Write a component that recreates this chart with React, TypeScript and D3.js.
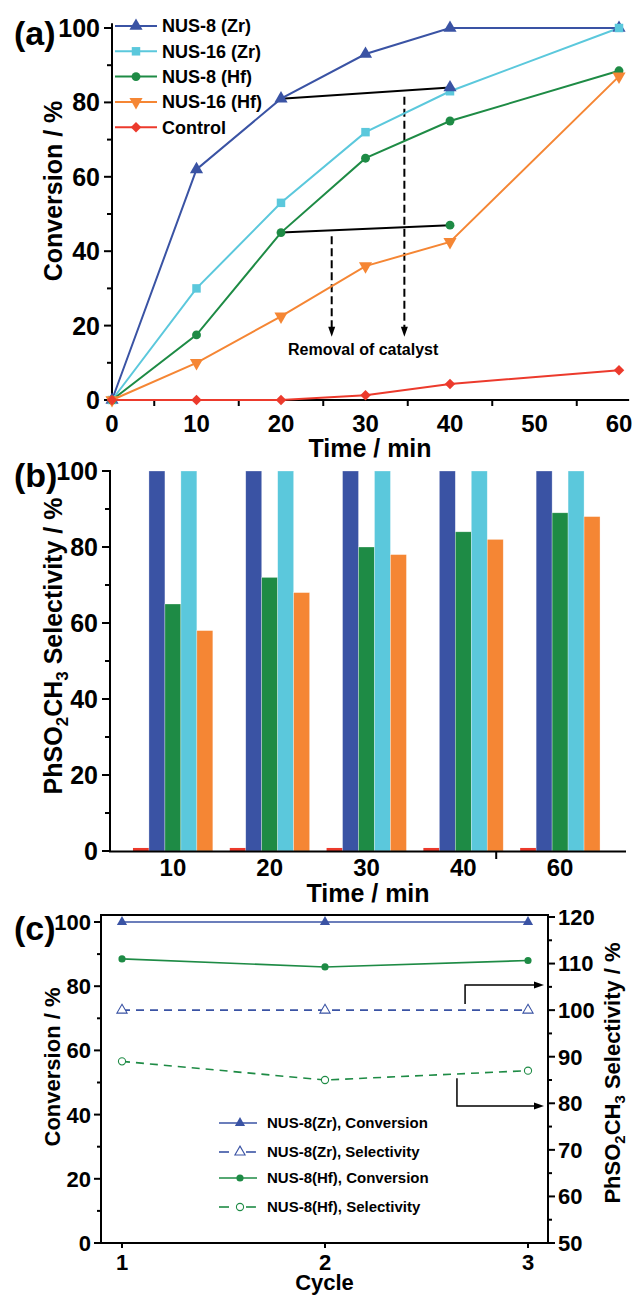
import React from 'react';
import * as d3 from 'd3';

const FONT = '"Liberation Sans", Arial, Helvetica, sans-serif';

// ---------- Panel (a): conversion vs time ----------
const timesA = [0, 10, 20, 30, 40, 60];
const convNus8Zr = [0, 62, 81, 93, 100, 100];
const convNus16Zr = [0, 30, 53, 72, 83, 100];
const convNus8Hf = [0, 17.5, 45, 65, 75, 88.5];
const convNus16Hf = [0, 10, 22.5, 36, 42.5, 87];
const convControl = [0, 0, 0, 1.3, 4.3, 8];
const removalTimes = [20, 40];
const removalNus8Zr = [81, 84];
const removalNus8Hf = [45, 47];
const arrowTimesA = [26, 34.6];
const arrowStartA = [44, 81.5];
const arrowEndA = [17, 17];
const ticksAx = [0, 10, 20, 30, 40, 50, 60];
const minorTicksAx = [5, 15, 25, 35, 45, 55];
const ticksAy = [0, 20, 40, 60, 80, 100];
const minorTicksAy = [10, 30, 50, 70, 90];
const namesA = ['NUS-8 (Zr)', 'NUS-16 (Zr)', 'NUS-8 (Hf)', 'NUS-16 (Hf)', 'Control'];

// ---------- Panel (b): selectivity bars ----------
const barTimes = ['10', '20', '30', '40', '60'];
const selControl = [0.8, 0.8, 0.8, 0.8, 0.8];
const selNus8Zr = [100, 100, 100, 100, 100];
const selNus8Hf = [65, 72, 80, 84, 89];
const selNus16Zr = [100, 100, 100, 100, 100];
const selNus16Hf = [58, 68, 78, 82, 88];
const ticksBy = [0, 20, 40, 60, 80, 100];
const minorTicksBy = [10, 30, 50, 70, 90];

// ---------- Panel (c): recycling ----------
const cycles = [1, 2, 3];
const cConvZr = [100, 100, 100];
const cSelZr = [100, 100, 100];
const cConvHf = [88.5, 86, 88];
const cSelHf = [89, 85, 87];
const ticksCyL = [0, 20, 40, 60, 80, 100];
const minorTicksCyL = [10, 30, 50, 70, 90];
const ticksCyR = [50, 60, 70, 80, 90, 100, 110, 120];
const minorTicksCyR = [55, 65, 75, 85, 95, 105, 115];
const namesC = ['NUS-8(Zr), Conversion', 'NUS-8(Zr), Selectivity', 'NUS-8(Hf), Conversion', 'NUS-8(Hf), Selectivity'];

const C = {
  blue: '#3A53A4',
  cyan: '#5BC8DC',
  green: '#1E8B45',
  orange: '#F58634',
  red: '#EC3A2C',
};

const symPath = (type: d3.SymbolType, size: number) => d3.symbol().type(type).size(size)() as string;

type MarkerKind = 'tri' | 'square' | 'circle' | 'down' | 'diamond';
function Marker({ kind, x, y, color, open = false, scale = 1 }: { kind: MarkerKind; x: number; y: number; color: string; open?: boolean; scale?: number }) {
  let d = '';
  let rot = 0;
  if (kind === 'tri') d = symPath(d3.symbolTriangle, 75 * scale);
  if (kind === 'down') { d = symPath(d3.symbolTriangle, 75 * scale); rot = 180; }
  if (kind === 'square') d = symPath(d3.symbolSquare, 72 * scale);
  if (kind === 'circle') d = symPath(d3.symbolCircle, 62 * scale);
  if (kind === 'diamond') { d = symPath(d3.symbolSquare, 55 * scale); rot = 45; }
  return (
    <path
      d={d}
      transform={`translate(${x},${y}) rotate(${rot})`}
      fill={open ? '#fff' : color}
      stroke={color}
      strokeWidth={open ? 1.1 : 0}
    />
  );
}

export default function App() {
  // ---- scales (a)
  const xA = d3.scaleLinear().domain([0, 60]).range([112, 619]);
  const yA = d3.scaleLinear().domain([0, 100]).range([400, 28]);
  const lineA = (xs: number[], ys: number[]) =>
    d3.line<number>().x((_, i) => xA(xs[i])).y((v) => yA(v))(ys) as string;

  const seriesA = [
    { vals: convNus8Zr, color: C.blue, kind: 'tri' as MarkerKind },
    { vals: convNus16Zr, color: C.cyan, kind: 'square' as MarkerKind },
    { vals: convNus8Hf, color: C.green, kind: 'circle' as MarkerKind },
    { vals: convNus16Hf, color: C.orange, kind: 'down' as MarkerKind },
    { vals: convControl, color: C.red, kind: 'diamond' as MarkerKind },
  ];

  // ---- scales (b)
  const xB = d3.scaleBand<string>().domain(barTimes).range([124.5, 608.5]).paddingInner(0.175).paddingOuter(0.0875);
  const subKeys = ['control', 'n8zr', 'n8hf', 'n16zr', 'n16hf'];
  const xSub = d3.scaleBand<string>().domain(subKeys).range([0, xB.bandwidth()]);
  const yB = d3.scaleLinear().domain([0, 100]).range([851, 471]);
  const barSeries = [
    { key: 'control', vals: selControl, color: C.red },
    { key: 'n8zr', vals: selNus8Zr, color: C.blue },
    { key: 'n8hf', vals: selNus8Hf, color: C.green },
    { key: 'n16zr', vals: selNus16Zr, color: C.cyan },
    { key: 'n16hf', vals: selNus16Hf, color: C.orange },
  ];
  const breakTickX = (xB('40') as number) + xB.bandwidth() / 2 + xB.step() * 0.34;

  // ---- scales (c)
  const xC = d3.scaleLinear().domain([1, 3]).range([122, 528]);
  const yCL = d3.scaleLinear().domain([0, 100]).range([1243, 922]);
  const yCR = d3.scaleLinear().domain([50, 120]).range([1243, 917]);
  const cLeft = 101, cRight = 548, cTop = 915, cBottom = 1243;
  const lineC = (ys: number[], y: d3.ScaleLinear<number, number>) =>
    d3.line<number>().x((_, i) => xC(cycles[i])).y((v) => y(v))(ys) as string;

  const tickFont = { fontFamily: FONT, fontWeight: 700 } as const;

  const arrowHead = (x: number, y: number, dir: 'down' | 'right', len = 10, half = 3.5) =>
    dir === 'down'
      ? `M${x},${y} L${x - half},${y - len} L${x + half},${y - len} Z`
      : `M${x},${y} L${x - len},${y - half} L${x - len},${y + half} Z`;

  return (
    <svg width={633} height={1296} style={{ position: 'absolute', left: 0, top: 0, background: '#fff' }} fontFamily={FONT}>
      <rect x={0} y={0} width={633} height={1296} fill="#fff" />

      {/* ================= Panel (a) ================= */}
      <text x={14} y={45} fontSize={34} {...tickFont}>(a)</text>
      <line x1={112} x2={112} y1={yA(0) + 1} y2={yA(101.3)} stroke="#000" strokeWidth={2} />
      <line x1={111} x2={xA(61.2)} y1={yA(0)} y2={yA(0)} stroke="#000" strokeWidth={2} />
      {ticksAy.map((t) => (
        <g key={'ay' + t}>
          <line x1={104} x2={112} y1={yA(t)} y2={yA(t)} stroke="#000" strokeWidth={2} />
          <text x={100} y={yA(t)} dy="0.36em" textAnchor="end" fontSize={25} {...tickFont}>{t}</text>
        </g>
      ))}
      {minorTicksAy.map((t) => (
        <line key={'may' + t} x1={107} x2={112} y1={yA(t)} y2={yA(t)} stroke="#000" strokeWidth={2} />
      ))}
      {minorTicksAx.map((t) => (
        <line key={'max' + t} x1={xA(t)} x2={xA(t)} y1={yA(0)} y2={yA(0) + 6} stroke="#000" strokeWidth={2} />
      ))}
      {ticksAx.map((t) => (
        <text key={'ax' + t} x={xA(t)} y={432} textAnchor="middle" fontSize={24} {...tickFont}>{t}</text>
      ))}
      <text x={370} y={457} textAnchor="middle" fontSize={25} {...tickFont}>Time / min</text>
      <text transform={`translate(62,${191}) rotate(-90)`} textAnchor="middle" fontSize={25} {...tickFont}>Conversion / %</text>

      {/* removal lines */}
      <path d={lineA(removalTimes, removalNus8Zr)} fill="none" stroke="#000" strokeWidth={2} />
      <path d={lineA(removalTimes, removalNus8Hf)} fill="none" stroke="#000" strokeWidth={2} />
      {arrowTimesA.map((t, i) => (
        <g key={'arr' + i}>
          <line x1={xA(t)} x2={xA(t)} y1={yA(arrowStartA[i])} y2={yA(arrowEndA[i]) - 9} stroke="#000" strokeWidth={2} strokeDasharray="8,4" />
          <path d={arrowHead(xA(t), yA(arrowEndA[i]), 'down', 10, 3.5)} fill="#000" />
        </g>
      ))}
      <text x={288} y={355} fontSize={16} {...tickFont}>Removal of catalyst</text>

      {seriesA.map((s, i) => (
        <path key={'la' + i} d={lineA(timesA, s.vals)} fill="none" stroke={s.color} strokeWidth={2} />
      ))}
      {seriesA.map((s, i) =>
        s.vals.map((v, j) => <Marker key={`ma${i}-${j}`} kind={s.kind} x={xA(timesA[j])} y={yA(v)} color={s.color} />)
      )}
      <Marker kind="tri" x={xA(removalTimes[1])} y={yA(removalNus8Zr[1])} color={C.blue} />
      <Marker kind="circle" x={xA(removalTimes[1])} y={yA(removalNus8Hf[1])} color={C.green} />

      {/* legend (a) */}
      {seriesA.map((s, i) => {
        const y = 26 + i * 25.3;
        return (
          <g key={'lga' + i}>
            <line x1={115} x2={157} y1={y} y2={y} stroke={s.color} strokeWidth={2} />
            <Marker kind={s.kind} x={136} y={y} color={s.color} />
            <text x={162} y={y} dy="0.36em" fontSize={18} {...tickFont}>{namesA[i]}</text>
          </g>
        );
      })}

      {/* ================= Panel (b) ================= */}
      <text x={14} y={487} fontSize={34} {...tickFont}>(b)</text>
      {barSeries.map((s) =>
        s.vals.map((v, j) => {
          const x0 = (xB(barTimes[j]) as number) + (xSub(s.key) as number);
          return (
            <rect
              key={`b${s.key}-${j}`}
              x={x0}
              y={yB(v)}
              width={xSub.bandwidth()}
              height={yB(0) - yB(v)}
              fill={s.color}
              stroke="#ffffff"
              strokeOpacity={s.key === 'control' ? 0 : 0.5}
              strokeWidth={0.6}
            />
          );
        })
      )}
      <line x1={110} x2={110} y1={yB(0) + 1} y2={yB(100) - 1} stroke="#000" strokeWidth={2} />
      <line x1={109} x2={626} y1={yB(0) + 0.5} y2={yB(0) + 0.5} stroke="#000" strokeWidth={2} />
      {ticksBy.map((t) => (
        <g key={'by' + t}>
          <line x1={102} x2={110} y1={yB(t)} y2={yB(t)} stroke="#000" strokeWidth={2} />
          <text x={98} y={yB(t)} dy="0.36em" textAnchor="end" fontSize={25} {...tickFont}>{t}</text>
        </g>
      ))}
      {minorTicksBy.map((t) => (
        <line key={'mby' + t} x1={105} x2={110} y1={yB(t)} y2={yB(t)} stroke="#000" strokeWidth={2} />
      ))}
      <line x1={breakTickX} x2={breakTickX} y1={yB(0)} y2={yB(0) + 8} stroke="#000" strokeWidth={2} />
      {barTimes.map((t) => (
        <text key={'bx' + t} x={(xB(t) as number) + xB.bandwidth() / 2} y={876} textAnchor="middle" fontSize={24} {...tickFont}>{t}</text>
      ))}
      <text x={368} y={902} textAnchor="middle" fontSize={25} {...tickFont}>Time / min</text>
      <text transform={`translate(62,${646}) rotate(-90)`} textAnchor="middle" fontSize={25} {...tickFont}>
        PhSO<tspan dy={6} fontSize={17}>2</tspan><tspan dy={-6}>CH</tspan><tspan dy={6} fontSize={17}>3</tspan><tspan dy={-6}> Selectivity / %</tspan>
      </text>

      {/* ================= Panel (c) ================= */}
      <text x={14} y={940} fontSize={34} {...tickFont}>(c)</text>
      <rect x={cLeft} y={cTop} width={cRight - cLeft} height={cBottom - cTop} fill="none" stroke="#000" strokeWidth={2} />
      {ticksCyL.map((t) => (
        <g key={'cyl' + t}>
          <line x1={cLeft - 7} x2={cLeft} y1={yCL(t)} y2={yCL(t)} stroke="#000" strokeWidth={2} />
          <text x={91} y={yCL(t)} dy="0.36em" textAnchor="end" fontSize={22} {...tickFont}>{t}</text>
        </g>
      ))}
      {minorTicksCyL.map((t) => (
        <line key={'mcyl' + t} x1={cLeft - 4} x2={cLeft} y1={yCL(t)} y2={yCL(t)} stroke="#000" strokeWidth={2} />
      ))}
      {ticksCyR.map((t) => (
        <g key={'cyr' + t}>
          <line x1={cRight} x2={cRight + 7} y1={yCR(t)} y2={yCR(t)} stroke="#000" strokeWidth={2} />
          <text x={558} y={yCR(t)} dy="0.36em" textAnchor="start" fontSize={22} {...tickFont}>{t}</text>
        </g>
      ))}
      {minorTicksCyR.map((t) => (
        <line key={'mcyr' + t} x1={cRight} x2={cRight + 4} y1={yCR(t)} y2={yCR(t)} stroke="#000" strokeWidth={2} />
      ))}
      {cycles.map((c) => (
        <g key={'cx' + c}>
          <line x1={xC(c)} x2={xC(c)} y1={cBottom} y2={cBottom + 5} stroke="#000" strokeWidth={2} />
          <text x={xC(c)} y={1270} textAnchor="middle" fontSize={22} {...tickFont}>{c}</text>
        </g>
      ))}
      <text x={(cLeft + cRight) / 2} y={1290} textAnchor="middle" fontSize={22} {...tickFont}>Cycle</text>
      <text transform={`translate(60,${1067}) rotate(-90)`} textAnchor="middle" fontSize={22} {...tickFont}>Conversion / %</text>
      <text transform={`translate(620,${1073}) rotate(-90)`} textAnchor="middle" fontSize={22} {...tickFont}>
        PhSO<tspan dy={5} fontSize={15}>2</tspan><tspan dy={-5}>CH</tspan><tspan dy={5} fontSize={15}>3</tspan><tspan dy={-5}> Selectivity / %</tspan>
      </text>

      <path d={lineC(cConvZr, yCL)} fill="none" stroke={C.blue} strokeWidth={1.6} />
      <path d={lineC(cSelZr, yCR)} fill="none" stroke={C.blue} strokeWidth={1.6} strokeDasharray="8,6" />
      <path d={lineC(cConvHf, yCL)} fill="none" stroke={C.green} strokeWidth={1.6} />
      <path d={lineC(cSelHf, yCR)} fill="none" stroke={C.green} strokeWidth={1.6} strokeDasharray="8,6" />
      {cycles.map((c, i) => (
        <g key={'cm' + i}>
          <Marker kind="tri" x={xC(c)} y={yCL(cConvZr[i])} color={C.blue} scale={0.6} />
          <Marker kind="tri" x={xC(c)} y={yCR(cSelZr[i])} color={C.blue} scale={0.6} open />
          <Marker kind="circle" x={xC(c)} y={yCL(cConvHf[i])} color={C.green} scale={0.65} />
          <Marker kind="circle" x={xC(c)} y={yCR(cSelHf[i])} color={C.green} scale={0.65} open />
        </g>
      ))}

      <path d={`M${xC(2.69)},${yCR(101.3)} V${yCR(105.4)} H${cRight - 12}`} fill="none" stroke="#000" strokeWidth={1.5} />
      <path d={arrowHead(cRight - 4, yCR(105.4), 'right', 10, 3.5)} fill="#000" />
      <path d={`M${xC(2.65)},${yCR(85.4)} V${yCR(79.4)} H${cRight - 12}`} fill="none" stroke="#000" strokeWidth={1.5} />
      <path d={arrowHead(cRight - 4, yCR(79.4), 'right', 10, 3.5)} fill="#000" />

      {namesC.map((n, i) => {
        const y = [1123, 1152, 1178, 1207][i];
        const color = i < 2 ? C.blue : C.green;
        const dashed = i % 2 === 1;
        const kind: MarkerKind = i < 2 ? 'tri' : 'circle';
        return (
          <g key={'lgc' + i}>
            {dashed ? (
              <>
                <line x1={219} x2={229} y1={y} y2={y} stroke={color} strokeWidth={1.6} />
                <line x1={246} x2={256} y1={y} y2={y} stroke={color} strokeWidth={1.6} />
              </>
            ) : (
              <line x1={219} x2={257} y1={y} y2={y} stroke={color} strokeWidth={1.6} />
            )}
            <Marker kind={kind} x={240} y={y} color={color} scale={i < 2 ? 0.6 : 0.65} open={dashed} />
            <text x={267} y={y} dy="0.36em" fontSize={15} {...tickFont}>{n}</text>
          </g>
        );
      })}
    </svg>
  );
}
